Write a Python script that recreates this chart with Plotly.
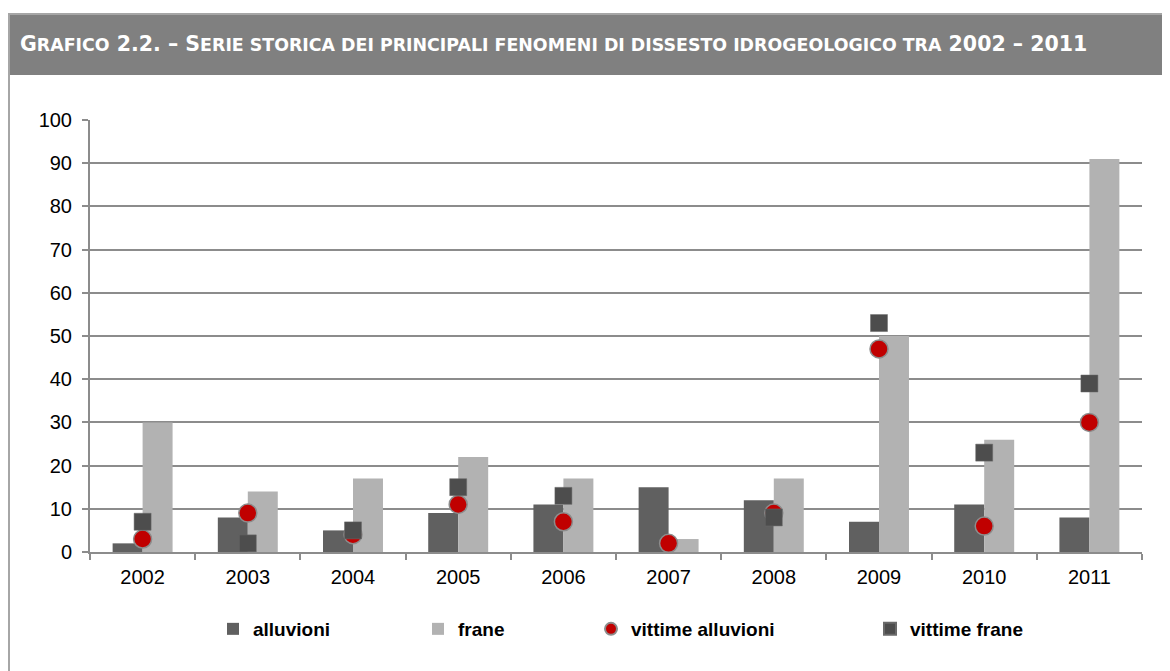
import plotly.graph_objects as go

years = ["2002", "2003", "2004", "2005", "2006", "2007", "2008", "2009", "2010", "2011"]
alluvioni = [2, 8, 5, 9, 11, 15, 12, 7, 11, 8]
frane = [30, 14, 17, 22, 17, 3, 17, 50, 26, 91]
vittime_alluvioni = [3, 9, 4, 11, 7, 2, 9, 47, 6, 30]
vittime_frane = [7, 2, 5, 15, 13, None, 8, 53, 23, 39]

# figure is placed by the page at an 8px offset; work in figure pixels
W, H = 1162, 663
L, R, T, B = 82, 1134, 112, 544


def px(x):
    return (x - L) / (R - L)


def py(y):
    return (B - y) / (B - T)


legend_font = dict(family="Liberation Sans, Arial", size=19, color="#000000")

fig = go.Figure()
fig.add_trace(go.Bar(x=years, y=alluvioni, name="<b>alluvioni</b>", marker=dict(color="#606060", line=dict(width=0)),
                     legend="legend"))
fig.add_trace(go.Bar(x=years, y=frane, name="<b>frane</b>", marker=dict(color="#b2b2b2", line=dict(width=0)),
                     legend="legend2"))
fig.add_trace(go.Scatter(x=years, y=vittime_alluvioni, name="<b>vittime alluvioni</b>", mode="markers",
                         marker=dict(symbol="circle", size=18, color="#c00000", line=dict(color="#8c8c8c", width=1.5)),
                         legend="legend3"))
fig.add_trace(go.Scatter(x=years, y=vittime_frane, name="<b>vittime frane</b>", mode="markers",
                         marker=dict(symbol="square", size=17, color="#4d4d4d", line=dict(color="#6a6a6a", width=0.5)),
                         legend="legend4"))

leg_common = dict(orientation="h", yanchor="middle", y=py(621), xanchor="left", font=legend_font,
                  bgcolor="rgba(0,0,0,0)", borderwidth=0, itemsizing="constant")

title_html = ("<b>G<span style='font-size:17.4px'>RAFICO</span> 2.2. – S"
              "<span style='font-size:17.4px'>ERIE STORICA DEI PRINCIPALI FENOMENI DI DISSESTO IDROGEOLOGICO TRA</span>"
              " 2002 – 2011</b>")

fig.update_layout(
    width=W, height=H,
    margin=dict(l=L, r=W - R, t=T, b=H - B, pad=0),
    paper_bgcolor="white", plot_bgcolor="white",
    showlegend=True,
    barmode="group", bargap=0.43, bargroupgap=0,
    font=dict(family="Liberation Sans, Arial", color="#000000"),
    legend=dict(leg_common, x=px(205)),
    legend2=dict(leg_common, x=px(410)),
    legend3=dict(leg_common, x=px(583)),
    legend4=dict(leg_common, x=px(862)),
    xaxis=dict(type="category", range=[-0.5, len(years) - 0.5], showline=True, linecolor="#8c8c8c", linewidth=2,
               ticks="outside", tickson="boundaries", ticklen=6, tickcolor="#8c8c8c", tickwidth=2,
               tickfont=dict(size=20, family="Liberation Sans, Arial", color="#000000"),
               ticklabelstandoff=6,
               showgrid=False, zeroline=False),
    yaxis=dict(range=[0, 100], dtick=10, showline=True, linecolor="#8c8c8c", linewidth=2, ticks="outside",
               ticklen=6, tickcolor="#8c8c8c", tickwidth=2, showgrid=True, gridcolor="#8c8c8c", gridwidth=2,
               zeroline=False, tickfont=dict(size=20, family="Liberation Sans, Arial", color="#000000"),
               ticklabelstandoff=6),
    shapes=[
        dict(type="rect", xref="paper", yref="paper", x0=px(0), x1=px(1164), y0=py(67), y1=py(5),
             fillcolor="#808080", line=dict(width=0), layer="below"),
        dict(type="line", xref="paper", yref="paper", x0=px(0), x1=px(1164), y0=py(6), y1=py(6),
             line=dict(color="#a6a6a6", width=2)),
        dict(type="line", xref="paper", yref="paper", x0=px(1), x1=px(1), y0=py(5), y1=py(664),
             line=dict(color="#a6a6a6", width=2)),
    ],
    annotations=[
        dict(text=title_html, xref="paper", yref="paper", x=px(10), y=py(36.5), xanchor="left", yanchor="middle",
             showarrow=False, font=dict(family="DejaVu Sans", size=20.5, color="white")),
    ],
)

fig.write_html("out.html")
